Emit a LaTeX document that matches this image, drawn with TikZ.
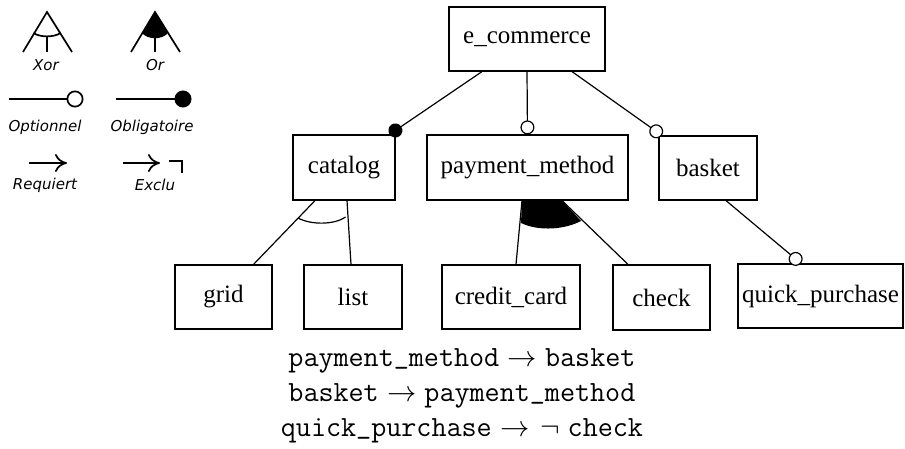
\RequirePackage{fix-cm}
\documentclass[tikz,border=0pt]{standalone}
\usepackage{fontspec}
\newfontfamily\boxfont{Liberation Serif}
\newfontfamily\legfont{DejaVu Sans}
\usetikzlibrary{arrows.meta}
\def\cmttus{{\char95}}
\begin{document}
\begin{tikzpicture}[x=1pt,y=-1pt,line width=1.2pt,
  feat/.style={draw,font=\boxfont\fontsize{25}{30}\selectfont,minimum height=64pt,inner sep=0pt},
  leg/.style={font=\legfont\itshape\fontsize{15}{18}\selectfont,inner sep=0pt},
  cons/.style={font=\fontencoding{OT1}\fontfamily{cmtt}\fontsize{29.3}{35}\selectfont,anchor=base,inner sep=0pt},
  opt/.style={-{Circle[length=14pt,fill=white]}},
  mand/.style={-{Circle[length=14pt]}},
  leglw/.style={line width=1.7pt},
  cmarrow/.style={leglw,-{Computer Modern Rightarrow[length=12pt,width=18pt]}}
]
\useasboundingbox (0,0) rectangle (905,448);

% legend
\draw[leglw] (23,52) -- (47,12) -- (72,52);
\draw[leglw] (33.5,33) .. controls (40,37.5) and (54,37.5) .. (60.5,33);
\draw[leglw] (47,36.7) -- (47,52);
\node[leg] (lxor) at (46,65) {Xor};
\fill (155,12) -- (142,33) .. controls (148,40) and (162,40) .. (168,33) -- cycle;
\draw[leglw] (131,52) -- (155,12) -- (180,52);
\draw[leglw] (155,37) -- (155,52);
\node[leg] (lor) at (155,65) {Or};
\draw[leglw,-{Circle[length=17pt,fill=white]}] (9,99) -- (83.5,99);
\node[leg] (lopt) at (45,127) {Optionnel};
\draw[leglw,-{Circle[length=17pt]}] (116,99) -- (191.5,99);
\node[leg] (lobl) at (152,127) {Obligatoire};
\draw[cmarrow] (29,163) -- (67,163);
\node[leg] (lreq) at (45,185) {Requiert};
\draw[cmarrow] (123,163) -- (160,163);
\draw[leglw] (169,161) -- (182,161) -- (182,172.5);
\node[leg] (lexc) at (155,185) {Exclu};

% features
\node[feat,minimum width=156pt] (ec) at (527,39) {e\_commerce};
\node[feat,minimum width=102pt,minimum height=65pt] (cat) at (344,167.5) {catalog};
\node[feat,minimum width=201pt,minimum height=65pt] (pm) at (527.5,167.5) {payment\_method};
\node[feat,minimum width=98pt] (bas) at (708,168) {basket};
\node[feat,minimum width=97pt] (grid) at (223.5,297) {grid};
\node[feat,minimum width=98pt] (list) at (353,297) {list};
\node[feat,minimum width=138pt] (cc) at (511,297) {credit\_card};
\node[feat,minimum width=97pt,minimum height=65pt] (chk) at (661.5,297.5) {check};
\node[feat,minimum width=165pt] (qp) at (820.5,296) {quick\_purchase};

% group fills
\fill ([xshift=-5.5pt]pm.south) -- (521,223) .. controls (540,232) and (566,229) .. (581,221) -- ([xshift=34.5pt]pm.south) -- cycle;
\draw (298,218) .. controls (311,225) and (334,225) .. (345.5,217);

% connectors
\draw[mand] ([xshift=-45pt]ec.south) -- ([xshift=-6pt]cat.north east);
\draw[opt] (ec.south) -- (pm.north);
\draw[opt] ([xshift=45pt]ec.south) -- ([xshift=3.5pt]bas.north west);
\draw ([xshift=-29pt]cat.south) -- ([xshift=30pt]grid.north);
\draw ([xshift=3pt]cat.south) -- ([xshift=-2pt]list.north);
\draw ([xshift=-5.5pt]pm.south) -- ([xshift=5pt]cc.north);
\draw ([xshift=34.5pt]pm.south) -- ([xshift=-33.5pt]chk.north);
\draw[opt] ([xshift=18pt]bas.south) -- ([xshift=-19.5pt]qp.north);

% constraints
\node[cons] (c1) at (462,366) {payment\cmttus method$\;\rightarrow\;$basket};
\node[cons] (c2) at (462,401) {basket$\;\rightarrow\;$payment\cmttus method};
\node[cons] (c3) at (462,436) {quick\cmttus purchase$\;\rightarrow\mkern1.5mu\neg\;$check};
\end{tikzpicture}
\end{document}
